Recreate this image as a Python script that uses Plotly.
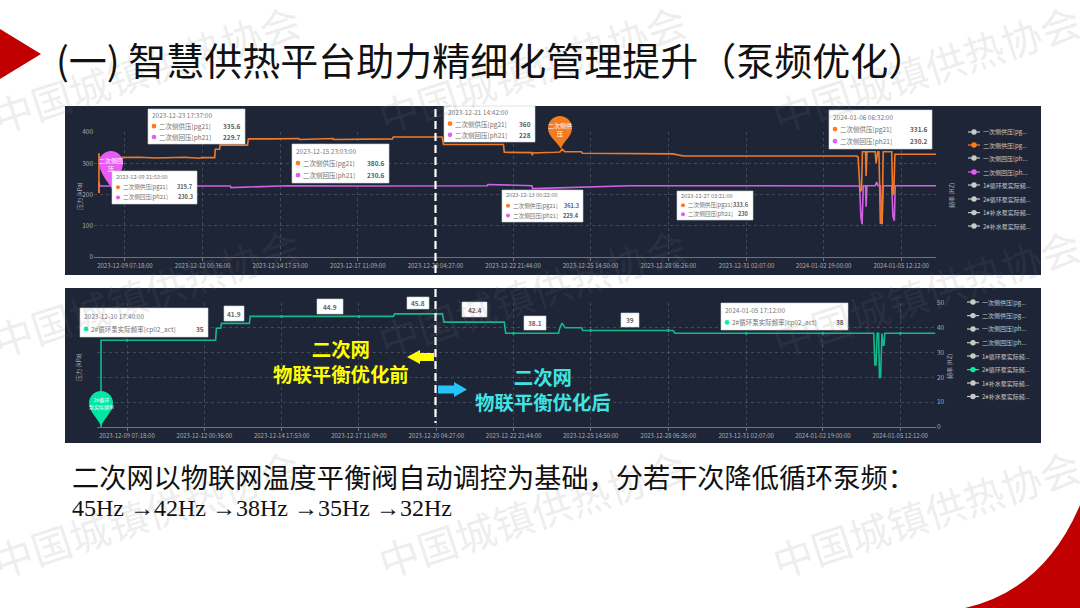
import plotly.graph_objects as go

W, H = 1080, 608
CJK = "Noto Sans CJK SC"

# ---- data: x in days since 2023-12-09 00:00
tick_days = [0.304, 3.025, 5.745, 8.465, 11.186, 13.906, 16.62, 19.35, 22.09, 24.79, 27.51]
tick_labels = ["2023-12-09 07:18:00", "2023-12-12 00:36:00", "2023-12-14 17:53:00", "2023-12-17 11:09:00",
               "2023-12-20 04:27:00", "2023-12-22 21:44:00", "2023-12-25 14:50:00", "2023-12-28 06:26:00",
               "2023-12-31 02:07:00", "2024-01-02 19:00:00", "2024-01-05 12:12:00"]

supply_x = [-0.607, -0.607, -0.60, -0.3, 0.8, 1.4, 2.4, 2.9, 3.0, 3.45, 3.47, 3.62, 3.64, 4.60, 4.63, 5.5, 6.4, 6.42, 7.6, 7.62,
            8.6, 9.68, 9.71, 10.5, 11.42, 11.47, 12.5, 13.57, 13.6, 14.56, 14.58, 14.6, 15.37, 15.55, 15.63, 15.72, 16.3, 16.34,
            19.5, 19.88, 22.0, 25.95, 26.0, 26.07, 26.12, 26.15, 26.26, 26.28, 26.31, 26.6, 26.63, 26.69, 26.73, 26.78, 26.84, 26.88,
            27.18, 27.21, 27.25, 27.29, 28.73]
supply_y = [205, 332, 318, 318, 319, 317, 319, 316, 318, 318, 345, 345, 358, 358, 378, 378, 379, 376, 379, 376,
            378, 378, 384, 385, 384, 360, 361, 360, 335, 334, 325, 333, 335, 336, 345, 337, 337, 332,
            330, 323, 323, 323, 320, 209, 215, 337, 337, 259, 337, 337, 300, 337, 337, 108, 108, 337,
            337, 198, 205, 329, 329]

return_x = [-0.607, -0.607, -0.58, 1.5, 3.0, 4.0, 4.02, 6.0, 9.0, 11.2, 13.0, 13.02, 14.57, 14.59, 18.0, 22.0, 25.95, 26.05, 26.1, 26.14,
            26.18, 26.26, 26.28, 26.31, 26.6, 26.65, 26.7, 26.78, 26.84, 26.88, 27.18, 27.22, 27.27, 27.3, 28.73]
return_y = [205, 240, 228, 228, 227, 227, 222, 228, 227, 227, 228, 232, 228, 219, 228, 228, 227, 227, 125, 105,
            228, 228, 161, 228, 228, 240, 228, 228, 105, 228, 228, 130, 116, 228, 228]

freq_x = [-0.611, -0.611, 3.42, 3.45, 3.60, 3.63, 4.61, 4.64, 9.68, 9.72, 11.40, 11.46, 13.58, 13.63, 15.49, 15.53, 15.61, 15.72,
          16.3, 16.34, 19.52, 19.58, 26.58, 26.62, 26.66, 26.70, 26.75, 26.78, 26.82, 26.87, 26.91, 26.94, 26.97, 28.74]
freq_y = [0, 35, 35, 39.8, 39.8, 41.8, 41.8, 44.6, 44.6, 45.6, 45.6, 42.3, 42.3, 37.8, 37.8, 39.8, 41.9, 40,
          40, 38.9, 38.9, 37.8, 37.8, 25, 25, 37.8, 37.8, 20, 20, 37.8, 33, 33, 37.8, 37.8]

left_ticks = [0, 100, 200, 300, 400]
right_ticks = [0, 10, 20, 30, 40, 50]
legend_names = ["一次侧供压[pg...", "二次侧供压[pg...", "一次侧回压[ph...", "二次侧回压[ph...",
                "1#循环泵实际频...", "2#循环泵实际频...", "1#补水泵实际频...", "2#补水泵实际频..."]

ORANGE, PURPLE, GREEN = "#ee7b2c", "#cf62df", "#12b98c"
DOT_O, DOT_P, DOT_G = "#ff7a1e", "#e85cf5", "#00f2a9"
PANEL = "#1e2536"
AXTXT = "#a9adb5"
LEG = "#c9c9c9"
S_NAME, R_NAME, F_NAME = "二次侧供压[pg21]", "二次侧回压[ph21]", "2#循环泵实际频率[cp02_act]"

fig = go.Figure()
fig.add_trace(go.Scatter(x=return_x, y=return_y, mode="lines", line=dict(color=PURPLE, width=1.6), xaxis="x", yaxis="y", name=R_NAME))
fig.add_trace(go.Scatter(x=supply_x, y=supply_y, mode="lines", line=dict(color=ORANGE, width=1.6), xaxis="x", yaxis="y", name=S_NAME))
fig.add_trace(go.Scatter(x=freq_x, y=freq_y, mode="lines", line=dict(color=GREEN, width=1.6), xaxis="x2", yaxis="y2", name=F_NAME))
fig.add_trace(go.Scatter(x=tick_days, y=[35, 41.8, 44.6, 44.6, 45.6, 37.8, 38.9, 38.9, 37.8, 37.8, 37.8], mode="markers",
                         marker=dict(color=GREEN, size=3), xaxis="x2", yaxis="y2", name=F_NAME))

shapes, annots = [], []


def PX(x):
    return x / W


def PY(y):
    return 1 - y / H


def pt(x, y):
    return f"{PX(x):.5f},{PY(y):.5f}"


def rect(x0, y0, x1, y1, fill, line=None):
    shapes.append(dict(type="rect", xref="paper", yref="paper", x0=PX(x0), x1=PX(x1), y0=PY(y0), y1=PY(y1),
                       fillcolor=fill, line=dict(color=line or fill, width=0.6 if line else 0), layer="above"))


def path(d, fill):
    shapes.append(dict(type="path", xref="paper", yref="paper", path=d, fillcolor=fill, line=dict(width=0), layer="above"))


def dot(x, y, r, color):
    shapes.append(dict(type="circle", xref="paper", yref="paper", x0=PX(x - r), x1=PX(x + r), y0=PY(y - r), y1=PY(y + r),
                       fillcolor=color, line=dict(width=0), layer="above"))


def txt(x, y, text, size, color, anchor="left", angle=0, family=CJK):
    annots.append(dict(xref="paper", yref="paper", x=PX(x), y=PY(y), text=text, showarrow=False, xanchor=anchor, yanchor="middle",
                       textangle=angle, font=dict(size=size, color=color, family=family), borderpad=0, borderwidth=0))


def pin(cx, cy, r, tx, ty, color):
    d = ("M " + pt(tx, ty) + " C " + pt(cx - r * 0.25, ty - r * 0.65) + " " + pt(cx - r, cy + r * 0.75) + " " + pt(cx - r, cy)
         + " C " + pt(cx - r, cy - r * 0.55) + " " + pt(cx - r * 0.55, cy - r) + " " + pt(cx, cy - r)
         + " C " + pt(cx + r * 0.55, cy - r) + " " + pt(cx + r, cy - r * 0.55) + " " + pt(cx + r, cy)
         + " C " + pt(cx + r, cy + r * 0.75) + " " + pt(cx + r * 0.25, ty - r * 0.65) + " " + pt(tx, ty) + " Z")
    path(d, color)


def tooltip(x0, y0, x1, y1, date, rows, size):
    rect(x0, y0, x1, y1, "#ffffff", "#cfd2d6")
    h = y1 - y0
    fr = [0.17, 0.49, 0.80] if len(rows) == 2 else [0.27, 0.72]
    txt(x0 + 4, y0 + fr[0] * h, date, size, "#777777")
    for (name, val, col), f in zip(rows, fr[1:]):
        yy = y0 + f * h
        dot(x0 + 6, yy, size * 0.36, col)
        txt(x0 + 11, yy, name, size, "#6f6f6f")
        txt(x1 - 4, yy, f"<b>{val}</b>", size, "#5c5c5c", anchor="right")


def box(x0, y0, x1, y1, val):
    rect(x0, y0, x1, y1, "#ffffff", "#cfd2d6")
    txt((x0 + x1) / 2, (y0 + y1) / 2, f"<b>{val}</b>", 6.5, "#666666", anchor="center")


# watermarks
for cy in (68, 292, 513):
    for cx in (146, 532, 926):
        txt(cx, cy, "中国城镇供热协会", 40, "rgba(120,120,120,0.14)", anchor="center", angle=-18)

# slide decoration
path("M " + pt(0, 29) + " L " + pt(41, 54) + " L " + pt(0, 79) + " Z", "#c00000")
path("M " + pt(965, 608) + " Q " + pt(1044, 590) + " " + pt(1080, 505) + " L " + pt(1080, 608) + " Z", "#c00000")

txt(56, 59, "(一) 智慧供热平台助力精细化管理提升（泵频优化）", 38, "#111111")
txt(72, 476, "二次网以物联网温度平衡阀自动调控为基础，分若干次降低循环泵频：", 27.2, "#111111")
txt(72, 508, " →".join(["45Hz", "42Hz", "38Hz", "35Hz", "32Hz"]), 24, "#111111", family="Liberation Serif")

# axis titles
txt(79, 196, "压力 (kPa)", 6, AXTXT, anchor="center", angle=-90)
txt(951, 196, "频率 (HZ)", 6, AXTXT, anchor="center", angle=-90)
txt(79, 367, "压力 (kPa)", 6, AXTXT, anchor="center", angle=-90)
txt(950, 367, "频率 (HZ)", 6, AXTXT, anchor="center", angle=-90)

# legends
for ys, x0, colors in (
    ([132, 145, 158, 172, 185, 199, 212.6, 226], 968, {1: DOT_O, 3: DOT_P}),
    ([302, 315.6, 329, 342.7, 356, 369.6, 383, 396.5], 967, {5: DOT_G}),
):
    for i, (yy, name) in enumerate(zip(ys, legend_names)):
        c = colors.get(i, LEG)
        shapes.append(dict(type="line", xref="paper", yref="paper", x0=PX(x0), x1=PX(x0 + 12), y0=PY(yy), y1=PY(yy),
                           line=dict(color=c, width=1.2), layer="above"))
        dot(x0 + 6, yy, 2.7, c)
        txt(x0 + 15, yy, name, 6, LEG)

# pins
pin(111, 163, 12, 113, 190, DOT_P)
txt(111, 164, "二次侧回<br>压", 6, "#ffffff", anchor="center")
pin(560, 128, 12, 561, 149, "#f47c20")
txt(560, 129, "二次侧供<br>压", 6, "#ffffff", anchor="center")
pin(101, 403, 12, 101, 426, "#00e6a5")
txt(101, 403, "2#循环<br>泵实际频率", 5, "#ffffff", anchor="center")

# tooltips
def two(a, b):
    return [(S_NAME, a, DOT_O), (R_NAME, b, DOT_P)]


tooltip(148, 109, 245, 144, "2023-12-23 17:37:00", two("335.6", "229.7"), 6.5)
tooltip(292, 144, 389, 183, "2023-12-15 23:03:00", two("380.6", "230.6"), 6.5)
tooltip(112, 171, 197, 204, "2023-12-09 21:53:00", two("319.7", "230.3"), 5.6)
tooltip(444, 106, 535, 142, "2023-12-21 14:42:00", two("360", "228"), 6.5)
tooltip(502, 190, 583, 222, "2023-12-13 00:22:00", two("361.3", "229.4"), 5.6)
tooltip(677, 191, 753, 220, "2023-12-27 03:21:00", two("333.6", "230"), 5.6)
tooltip(829, 110, 932, 149, "2024-01-06 06:32:00", two("331.6", "230.2"), 6.5)
tooltip(80, 308, 208, 337, "2023-12-10 17:40:00", [(F_NAME, "35", DOT_G)], 6.5)
tooltip(721, 303, 848, 330, "2024-01-05 17:12:00", [(F_NAME, "38", DOT_G)], 6.5)
box(224, 306, 244, 321, "41.9")
box(317, 299, 343, 314, "44.9")
box(407, 297, 429, 309, "45.8")
box(462, 302, 487, 317, "42.4")
box(524, 316, 546, 330, "38.1")
box(621, 313, 639, 327, "39")

# divider
shapes.append(dict(type="line", xref="paper", yref="paper", x0=PX(435.5), x1=PX(435.5), y0=PY(109), y1=PY(423),
                   line=dict(color="#ffffff", width=2.2, dash="8px,4px"), layer="above"))

# arrows and captions
path("M " + pt(407, 357) + " L " + pt(420, 350) + " L " + pt(420, 353) + " L " + pt(434, 353) + " L " + pt(434, 361)
     + " L " + pt(420, 361) + " L " + pt(420, 364) + " Z", "#ffff00")
path("M " + pt(467, 389.5) + " L " + pt(454, 382) + " L " + pt(454, 385.5) + " L " + pt(438, 385.5) + " L " + pt(438, 393.5)
     + " L " + pt(454, 393.5) + " L " + pt(454, 397) + " Z", "#29c4f7")
txt(341, 360.5, "<b>二次网<br>物联平衡优化前</b>", 19.4, "#ffff00", anchor="center")
txt(543, 388.5, "<b>二次网<br>物联平衡优化后</b>", 19.4, "#3fe3e3", anchor="center")


def xaxis(domain_px, rng, anchor):
    return dict(domain=[PX(domain_px[0]), PX(domain_px[1])], range=rng, anchor=anchor, tickmode="array", tickvals=tick_days,
                ticktext=tick_labels, tickfont=dict(size=6, color=AXTXT, family=CJK), ticks="outside", ticklen=3,
                tickcolor="#6d7280", tickwidth=0.6, showline=True, linecolor="#6d7280", linewidth=0.8, automargin=False,
                showgrid=True, gridcolor="rgba(255,255,255,0.16)", griddash="dot", gridwidth=0.6, zeroline=False, tickangle=0)


def yaxis(y_bottom, y_top, rng, vals, side, anchor):
    return dict(domain=[PY(y_bottom), PY(y_top)], range=rng, anchor=anchor, side=side, tickmode="array", tickvals=vals,
                tickfont=dict(size=6.5, color=AXTXT, family=CJK), showline=False, ticks="", automargin=False,
                showgrid=True, gridcolor="rgba(255,255,255,0.16)", griddash="dot", gridwidth=0.6, zeroline=False)


panels = [
    dict(type="rect", xref="paper", yref="paper", x0=PX(65), x1=PX(1041), y0=PY(106), y1=PY(275),
         fillcolor=PANEL, line=dict(width=0), layer="below"),
    dict(type="rect", xref="paper", yref="paper", x0=PX(65), x1=PX(1041), y0=PY(288), y1=PY(443),
         fillcolor=PANEL, line=dict(width=0), layer="below"),
]

fig.update_layout(
    width=W, height=H, margin=dict(l=0, r=0, t=0, b=0, pad=0), paper_bgcolor="#ffffff", plot_bgcolor="rgba(0,0,0,0)",
    showlegend=False, shapes=panels + shapes, annotations=annots,
    xaxis=xaxis((94, 936), [-0.78, 28.73], "y"),
    yaxis=yaxis(257, 132, [0, 400], left_ticks, "left", "x"),
    xaxis2=xaxis((97, 936), [-0.752, 28.77], "y2"),
    yaxis2=yaxis(427, 303, [0, 50], right_ticks, "right", "x2"),
)
fig.write_html("out.html", config=dict(displayModeBar=False), post_script="document.body.style.margin='0';")
